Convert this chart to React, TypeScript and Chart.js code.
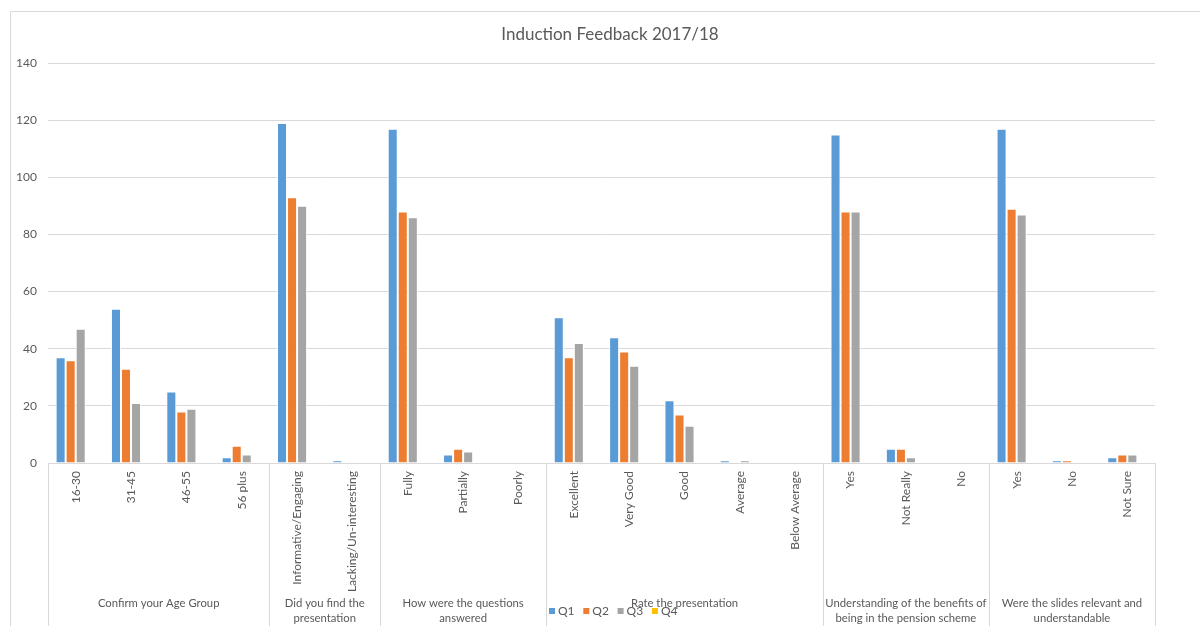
import React, { useEffect, useRef } from "react";
import { Chart, registerables } from "chart.js";

Chart.register(...registerables);

const chartTitle = "Induction Feedback 2017/18";
const categories = [
  "16-30", "31-45", "46-55", "56 plus",
  "Informative/Engaging", "Lacking/Un-interesting",
  "Fully", "Partially", "Poorly",
  "Excellent", "Very Good", "Good", "Average", "Below Average",
  "Yes", "Not Really", "No",
  "Yes", "No", "Not Sure",
];
const groupLabels = [
  ["Confirm your Age Group"],
  ["Did you find the", "presentation"],
  ["How were the questions", "answered"],
  ["Rate the presentation"],
  ["Understanding of the benefits of", "being in the pension scheme"],
  ["Were the slides relevant and", "understandable"],
];
const groupSizes = [4, 2, 3, 5, 3, 3];
const seriesNames = ["Q1", "Q2", "Q3", "Q4"];
const q1Values = [37, 54, 25, 2, 119, 1, 117, 3, 0, 51, 44, 22, 1, 0, 115, 5, 0, 117, 1, 2];
const q2Values = [36, 33, 18, 6, 93, 0, 88, 5, 0, 37, 39, 17, 0, 0, 88, 5, 0, 89, 1, 3];
const q3Values = [47, 21, 19, 3, 90, 0, 86, 4, 0, 42, 34, 13, 1, 0, 88, 2, 0, 87, 0, 3];
const q4Values = [0, 0, 0, 0, 0, 0, 0, 0, 0, 0, 0, 0, 0, 0, 0, 0, 0, 0, 0, 0];
const seriesColors = ["#5B9BD5", "#ED7D31", "#A5A5A5", "#FFC000"];
const yMin = 0;
const yMax = 140;
const yStep = 20;

const FONT = "Lato, 'Open Sans', sans-serif";
const TEXT_COLOR = "#595959";
const LINE_COLOR = "#D9D9D9";

const overlayPlugin = {
  id: "excelOverlay",
  afterDraw(chart: any) {
    const ctx = chart.ctx as CanvasRenderingContext2D;
    const area = chart.chartArea;
    const xScale = chart.scales.x;
    const H = chart.height;
    ctx.save();

    // outer frame
    ctx.strokeStyle = LINE_COLOR;
    ctx.lineWidth = 1;
    ctx.beginPath();
    ctx.moveTo(10.5, H);
    ctx.lineTo(10.5, 11.5);
    ctx.lineTo(chart.width, 11.5);
    ctx.stroke();

    // title
    ctx.fillStyle = TEXT_COLOR;
    ctx.font = `17px ${FONT}`;
    ctx.textAlign = "center";
    ctx.textBaseline = "middle";
    ctx.fillText(chartTitle, 610, 35);

    // group separators and labels
    const bounds: number[] = [area.left];
    let idx = 0;
    groupSizes.forEach((n) => {
      idx += n;
      if (idx >= categories.length) bounds.push(area.right);
      else bounds.push((xScale.getPixelForValue(idx - 1) + xScale.getPixelForValue(idx)) / 2);
    });
    ctx.strokeStyle = LINE_COLOR;
    bounds.forEach((b) => {
      const x = Math.round(b) + 0.5;
      ctx.beginPath();
      ctx.moveTo(x, area.bottom);
      ctx.lineTo(x, H);
      ctx.stroke();
    });
    ctx.font = `11.3px ${FONT}`;
    ctx.fillStyle = TEXT_COLOR;
    groupLabels.forEach((lines, g) => {
      const cx = (bounds[g] + bounds[g + 1]) / 2;
      lines.forEach((line, li) => {
        ctx.fillText(line, cx, 603 + li * 15);
      });
    });

    // legend
    ctx.textAlign = "left";
    ctx.font = `12px ${FONT}`;
    let lx = 549;
    chart.data.datasets.forEach((ds: any) => {
      ctx.fillStyle = ds.backgroundColor;
      ctx.fillRect(lx, 608, 6, 6);
      ctx.fillStyle = TEXT_COLOR;
      ctx.fillText(ds.label, lx + 9, 611);
      lx += 34.3;
    });
    ctx.restore();
  },
};

export default function App() {
  const canvasRef = useRef<HTMLCanvasElement | null>(null);

  useEffect(() => {
    const prevMargin = document.body.style.margin;
    document.body.style.margin = "0";
    const canvas = canvasRef.current;
    if (!canvas) return;
    const seriesValues = [q1Values, q2Values, q3Values, q4Values];
    const chart = new Chart(canvas, {
      type: "bar",
      data: {
        labels: categories,
        datasets: seriesNames.map((name, i) => ({
          label: name,
          data: seriesValues[i],
          backgroundColor: seriesColors[i],
          borderColor: "#FFFFFF",
          borderWidth: 1,
          borderSkipped: "bottom",
          categoryPercentage: 0.725,
          barPercentage: 1,
        })),
      },
      options: {
        responsive: false,
        animation: false,
        devicePixelRatio: 1,
        layout: { padding: { left: 10, top: 63, right: 45, bottom: 0 } },
        plugins: {
          legend: { display: false },
          title: { display: false },
          tooltip: { enabled: false },
        },
        scales: {
          x: {
            grid: { display: false, drawTicks: false },
            border: { display: true, color: LINE_COLOR },
            ticks: {
              autoSkip: false,
              minRotation: 90,
              maxRotation: 90,
              padding: 8,
              color: TEXT_COLOR,
              font: { family: FONT, size: 12 },
            },
            afterFit: (scale: any) => {
              scale.height = 163;
            },
          },
          y: {
            min: yMin,
            max: yMax,
            grid: { color: LINE_COLOR, drawTicks: false },
            border: { display: false },
            ticks: {
              stepSize: yStep,
              padding: 11,
              color: TEXT_COLOR,
              font: { family: FONT, size: 12 },
            },
            afterFit: (scale: any) => {
              scale.width = 38;
            },
          },
        },
      },
      plugins: [overlayPlugin],
    });
    return () => {
      chart.destroy();
      document.body.style.margin = prevMargin;
    };
  }, []);

  return (
    <div style={{ position: "fixed", left: 0, top: 0, width: 1200, height: 626, background: "#FFFFFF" }}>
      <canvas ref={canvasRef} width={1200} height={626} />
    </div>
  );
}
